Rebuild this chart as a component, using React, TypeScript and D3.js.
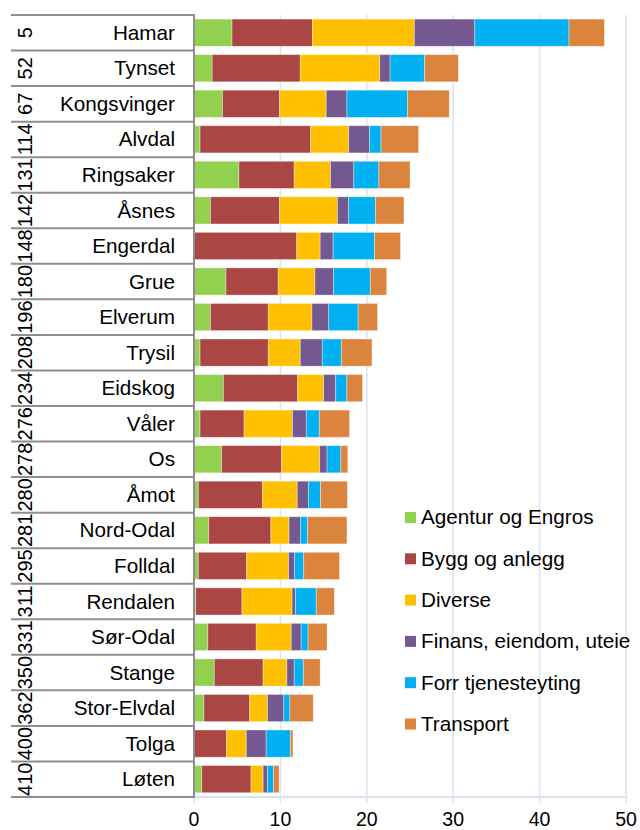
import React from "react";
import * as d3 from "d3";

const names = ["Hamar","Tynset","Kongsvinger","Alvdal","Ringsaker","Åsnes","Engerdal","Grue","Elverum","Trysil","Eidskog","Våler","Os","Åmot","Nord-Odal","Folldal","Rendalen","Sør-Odal","Stange","Stor-Elvdal","Tolga","Løten"];
const codes = ["5","52","67","114","131","142","148","180","196","208","234","276","278","280","281","295","311","331","350","362","400","410"];
const seriesNames = ["Agentur og Engros","Bygg og anlegg","Diverse","Finans, eiendom, uteie","Forr tjenesteyting","Transport"];
const seriesColors = ["#92d050","#aa4643","#ffc000","#745990","#00b0f0","#db843d"];
const agentur = [4.4,2.1,3.3,0.7,5.2,1.9,0,3.7,1.9,0.7,3.4,0.7,3.2,0.5,1.7,0.5,0.2,1.6,2.35,1.15,0,0.9];
const bygg = [9.3,10.2,6.6,12.8,6.4,8.0,11.9,6.05,6.7,7.9,8.6,5.1,6.95,7.45,7.2,5.6,5.35,5.6,5.65,5.3,3.75,5.7];
const diverse = [11.8,9.2,5.4,4.4,4.2,6.7,2.7,4.25,5.05,3.7,3.0,5.6,4.4,4.0,2.1,4.85,5.8,4.05,2.75,2.05,2.3,1.4];
const finans = [7.0,1.2,2.4,2.4,2.7,1.3,1.5,2.15,1.95,2.55,1.4,1.6,0.85,1.3,1.35,0.7,0.4,1.15,0.85,1.9,2.3,0.5];
const forr = [10.9,4.0,7.0,1.35,2.9,3.1,4.8,4.25,3.4,2.2,1.3,1.5,1.6,1.4,0.8,1.05,2.4,0.8,1.05,0.7,2.8,0.7];
const transport = [4.1,3.9,4.85,4.35,3.6,3.3,3.0,1.9,2.25,3.55,1.8,3.5,0.8,3.1,4.55,4.15,2.1,2.2,1.95,2.7,0.3,0.65];
const xTicks = [0,10,20,30,40,50];

const FONT = "'Liberation Sans', Arial, sans-serif";

export default function App() {
  const W = 640, H = 830;
  const x0 = 194, x1 = 626, yTop = 15, yBot = 797;
  const x = d3.scaleLinear().domain([0, 50]).range([x0, x1]);
  const y = d3.scaleBand<string>().domain(names).range([yTop, yBot]);
  const bw = y.bandwidth();
  const rows = names.map((n, i) => ({
    name: n,
    vals: [agentur[i], bygg[i], diverse[i], finans[i], forr[i], transport[i]],
  }));
  const keys = seriesNames;
  const tableData = rows.map((r) => {
    const o: any = { name: r.name };
    keys.forEach((k, j) => (o[k] = r.vals[j]));
    return o;
  });
  const stacked = d3.stack<any>().keys(keys)(tableData);
  const gridColor = "#d9e2ef";
  const lineGray = "#8e8e8e";

  return (
    <svg width={W} height={H} style={{ position: "absolute", left: 0, top: 0 }} fontFamily={FONT}>
      <rect width={W} height={H} fill="#fff" />
      {xTicks.map((t) => (
        <line key={"g" + t} x1={x(t)} x2={x(t)} y1={yTop} y2={yBot} stroke={gridColor} strokeWidth={1.5} />
      ))}
      <line x1={x0} x2={x1} y1={yBot} y2={yBot} stroke={gridColor} strokeWidth={2} />
      {xTicks.map((t) => (
        <g key={"t" + t}>
          <line x1={x(t)} x2={x(t)} y1={yBot} y2={yBot + 6} stroke={gridColor} strokeWidth={1.5} />
          <text x={x(t)} y={826} textAnchor="middle" fontSize={19.5} fill="#000">{t}</text>
        </g>
      ))}
      {stacked.map((s, si) => (
        <g key={s.key} fill={seriesColors[si]}>
          {s.map((d, i) => {
            const w = x(d[1]) - x(d[0]);
            if (w <= 0) return null;
            return (
              <rect key={i} x={x(d[0])} y={(y(names[i]) as number) + bw * 0.115} width={w} height={bw * 0.765}
                stroke="#fff" strokeOpacity={0.45} strokeWidth={0.8} />
            );
          })}
        </g>
      ))}
      {names.map((n, i) => (
        <line key={"h" + i} x1={11} x2={x0} y1={(y(n) as number)} y2={(y(n) as number)} stroke={lineGray} strokeWidth={2} />
      ))}
      <line x1={11} x2={x0} y1={yBot} y2={yBot} stroke={lineGray} strokeWidth={2} />
      <line x1={x0} x2={x0} y1={yTop - 1} y2={yBot + 1} stroke={lineGray} strokeWidth={2} />
      {names.map((n, i) => {
        const cy = (y(n) as number) + bw / 2;
        return (
          <g key={"l" + i}>
            <text x={175} y={cy + 7} textAnchor="end" fontSize={20.7} fill="#000">{n}</text>
            <text transform={`translate(32,${cy}) rotate(-90)`} textAnchor="middle" fontSize={20} fill="#000">{codes[i]}</text>
          </g>
        );
      })}
      {seriesNames.map((s, i) => (
        <g key={"lg" + i} transform={`translate(405,${512 + i * 41.3})`}>
          <rect width={11} height={11} fill={seriesColors[i]} />
          <text x={16} y={12.3} fontSize={20.7} fill="#000">{s}</text>
        </g>
      ))}
    </svg>
  );
}
